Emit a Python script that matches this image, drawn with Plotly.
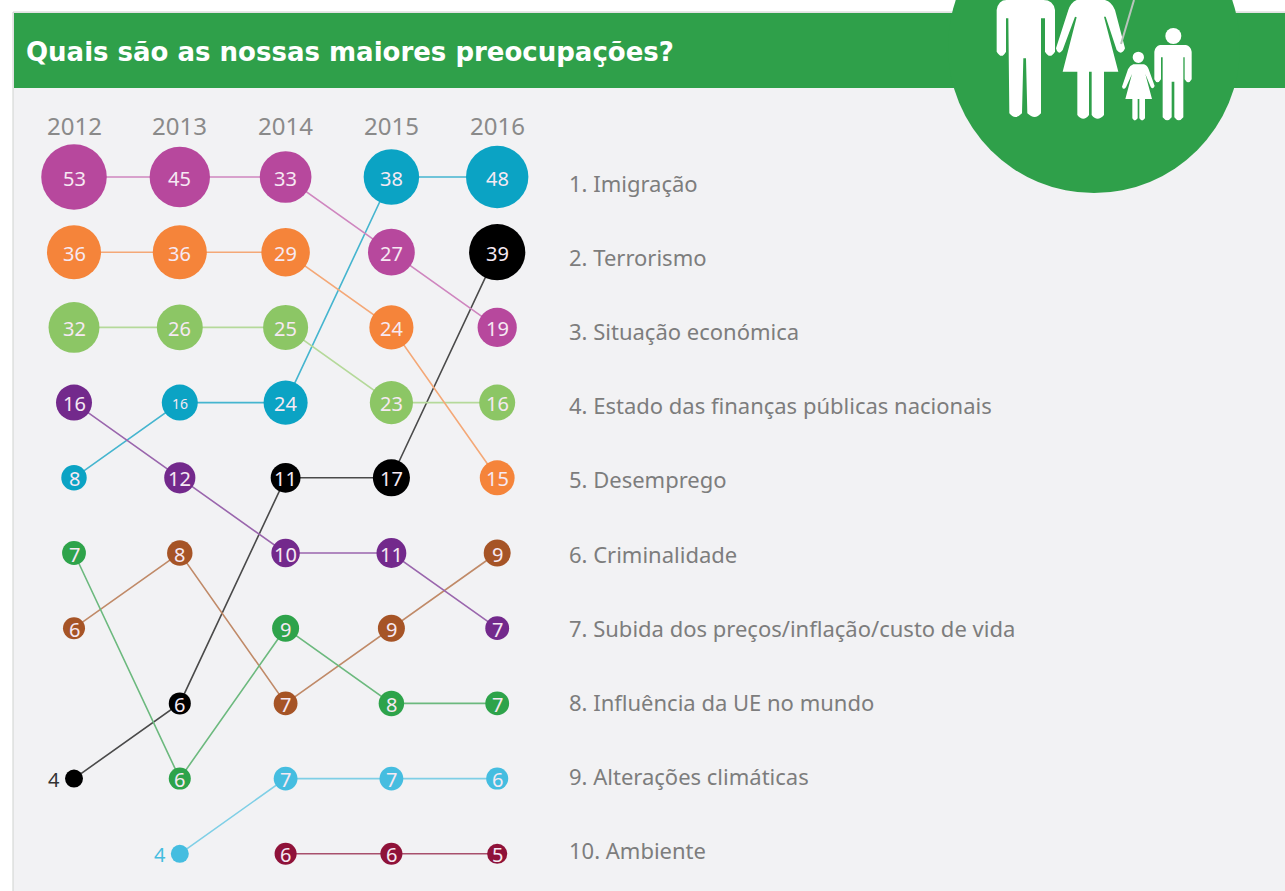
import math
import plotly.graph_objects as go

W, H = 1285, 891
FONT = "Noto Sans"

years = [2012, 2013, 2014, 2015, 2016]
title = "Quais são as nossas maiores preocupações?"

imigracao_vals = [8, 16, 24, 38, 48]
imigracao_rank = [5, 4, 4, 1, 1]
terrorismo_vals = [4, 6, 11, 17, 39]
terrorismo_rank = [9, 8, 5, 5, 2]
economia_vals = [53, 45, 33, 27, 19]
economia_rank = [1, 1, 1, 2, 3]
financas_vals = [32, 26, 25, 23, 16]
financas_rank = [3, 3, 3, 4, 4]
desemprego_vals = [36, 36, 29, 24, 15]
desemprego_rank = [2, 2, 2, 3, 5]
crime_vals = [6, 8, 7, 9, 9]
crime_rank = [7, 6, 8, 7, 6]
inflacao_vals = [16, 12, 10, 11, 7]
inflacao_rank = [4, 5, 6, 6, 7]
ue_vals = [7, 6, 9, 8, 7]
ue_rank = [6, 9, 7, 8, 8]
clima_vals = [None, 4, 7, 7, 6]
clima_rank = [None, 10, 9, 9, 9]
ambiente_vals = [None, None, 6, 6, 5]
ambiente_rank = [None, None, 10, 10, 10]

legend_labels = [
    "1. Imigração", "2. Terrorismo", "3. Situação económica",
    "4. Estado das finanças públicas nacionais", "5. Desemprego",
    "6. Criminalidade", "7. Subida dos preços/inflação/custo de vida",
    "8. Influência da UE no mundo", "9. Alterações climáticas", "10. Ambiente",
]

series = [
    (imigracao_vals, imigracao_rank, "#0ba3c4", "#45b5cf"),
    (terrorismo_vals, terrorismo_rank, "#000000", "#4a4a4a"),
    (economia_vals, economia_rank, "#b7489d", "#cf86bf"),
    (financas_vals, financas_rank, "#8cc665", "#b5d99a"),
    (desemprego_vals, desemprego_rank, "#f5843a", "#f4a877"),
    (crime_vals, crime_rank, "#a65426", "#c08a68"),
    (inflacao_vals, inflacao_rank, "#73298c", "#9a66ad"),
    (ue_vals, ue_rank, "#2ea34a", "#6cb97e"),
    (clima_vals, clima_rank, "#45bde0", "#7fcfe6"),
    (ambiente_vals, ambiente_rank, "#8f1239", "#a8506c"),
]

annotations = []
fig = go.Figure()
for vals, ranks, colour, line_colour in series:
    sizes = [0 if v is None else 9 * math.sqrt(v) for v in vals]
    fig.add_trace(go.Scatter(
        x=years, y=ranks, mode="lines+markers",
        line=dict(color=line_colour, width=1.6),
        marker=dict(color=colour, size=sizes, sizemode="diameter", opacity=1, line=dict(width=0)),
        showlegend=False, hoverinfo="skip", cliponaxis=False,
    ))
    for v, rank, year, size in zip(vals, ranks, years, sizes):
        if v is None:
            continue
        outside = v == 4
        annotations.append(dict(
            xref="x", yref="y", x=year, y=rank, showarrow=False, text=str(v),
            xanchor="right" if outside else "center", yanchor="middle",
            xshift=-(size / 2 + 3) if outside else 0, yshift=-1,
            font=dict(family=FONT, size=14 if (v == 16 and year == 2013) else 20,
                      color=("#333333" if colour == "#000000" else colour) if outside else "#f6e9f3"),
        ))

def px(x): return x / W
def py(y): return 1 - y / H

def path_from(points):
    out = []
    for cmd, *coords in points:
        xy = []
        for i in range(0, len(coords), 2):
            xy.append(f"{px(940 + coords[i] / 3):.5f},{py(coords[i + 1] / 3):.5f}")
        out.append(cmd + " ".join(xy))
    return " ".join(out) + " Z"

man = [("M",170,30),("Q",175,0,200,0),("L",310,0),("Q",340,0,345,30),("L",345,155),("Q",330,180,315,155),
       ("L",315,55),("L",303,55),("L",303,340),("Q",285,362,262,340),("L",258,175),("L",250,175),("L",246,340),
       ("Q",225,362,208,340),("L",205,55),("L",198,55),("L",198,155),("Q",185,180,170,155)]
woman = [("M",410,0),("L",495,0),("Q",515,5,525,30),("L",555,145),("Q",545,168,530,150),("L",497,50),("L",492,50),
         ("L",535,215),("L",492,215),("L",492,345),("Q",472,368,455,345),("L",455,215),("L",447,215),("L",447,345),
         ("Q",430,368,412,345),("L",412,215),("L",368,215),("L",410,52),("L",405,50),("L",368,150),("Q",355,168,348,145),
         ("L",385,30),("Q",392,8,410,0)]
girl = [("M",580,193),("L",612,193),("Q",622,196,626,208),("L",644,258),("Q",638,270,632,260),("L",616,222),("L",636,297),
        ("L",615,297),("L",615,355),("Q",606,368,598,355),("L",598,297),("L",593,297),("L",593,355),("Q",584,368,577,355),
        ("L",577,297),("L",556,297),("L",576,222),("L",558,262),("Q",550,272,546,260),("L",564,208),("Q",570,196,580,193)]
boy = [("M",660,135),("L",738,135),("Q",752,138,755,155),("L",755,238),("Q",745,256,734,238),("L",734,172),("L",730,172),
       ("L",730,352),("Q",716,370,703,352),("L",703,245),("L",695,245),("L",695,352),("Q",682,370,668,352),("L",668,172),
       ("L",663,172),("L",663,238),("Q",652,256,643,238),("L",643,155),("Q",646,138,660,135)]

GREEN = "#2fa04a"
shapes = [
    dict(type="rect", xref="paper", yref="paper", x0=px(13), x1=px(W + 2), y0=py(H + 2), y1=py(12),
         fillcolor="#f2f2f4", line=dict(color="#cfd2cf", width=1), layer="below"),
    dict(type="rect", xref="paper", yref="paper", x0=px(14), x1=px(W + 2), y0=py(88), y1=py(13),
         fillcolor=GREEN, line=dict(width=0), layer="below"),
    dict(type="circle", xref="paper", yref="paper", x0=px(1094 - 146), x1=px(1094 + 146),
         y0=py(47 + 146), y1=py(47 - 146), fillcolor=GREEN, line=dict(width=0), layer="below"),
]
for p in (man, woman, girl, boy):
    shapes.append(dict(type="path", xref="paper", yref="paper", path=path_from(p),
                       fillcolor="#ffffff", line=dict(width=0), layer="below"))
for cx, cy, r in ((595, 172, 17), (700, 108, 24)):
    shapes.append(dict(type="circle", xref="paper", yref="paper",
                       x0=px(940 + (cx - r) / 3), x1=px(940 + (cx + r) / 3),
                       y0=py((cy + r) / 3), y1=py((cy - r) / 3),
                       fillcolor="#ffffff", line=dict(width=0), layer="below"))
shapes.append(dict(type="line", xref="paper", yref="paper", x0=px(1134), x1=px(1121), y0=py(0), y1=py(44),
                   line=dict(color="#b9c4bc", width=2), layer="below"))

annotations.append(dict(
    xref="paper", yref="paper", x=px(24), y=py(52), xanchor="left", yanchor="middle", showarrow=False,
    text=f"<b>{title}</b>", font=dict(family="DejaVu Sans", size=26, color="#ffffff"),
))
for year in years:
    annotations.append(dict(
        xref="x", yref="paper", x=year, y=py(125), xanchor="center", yanchor="middle", showarrow=False,
        text=str(year), font=dict(family=FONT, size=24, color="#8a8a8a"),
    ))
for i, label in enumerate(legend_labels):
    annotations.append(dict(
        xref="paper", yref="paper", x=px(567), y=py(183 + 74.1 * i), xanchor="left", yanchor="middle",
        showarrow=False, text=label, font=dict(family=FONT, size=22, color="#7d7d7d"),
    ))

STEP_X, STEP_Y = 105.8, 75.2
fig.update_layout(
    width=W, height=H, margin=dict(l=0, r=0, t=0, b=0), autosize=False,
    paper_bgcolor="#ffffff", plot_bgcolor="rgba(0,0,0,0)",
    shapes=shapes, annotations=annotations, showlegend=False,
    xaxis=dict(visible=False, range=[2012 - 74 / STEP_X, 2012 + (W - 74) / STEP_X]),
    yaxis=dict(visible=False, range=[1 + (H - 177) / STEP_Y, 1 - 177 / STEP_Y]),
)
fig.write_html("out.html", config={"displayModeBar": False},
               post_script="document.body.style.margin='0';document.body.style.overflow='hidden';")
